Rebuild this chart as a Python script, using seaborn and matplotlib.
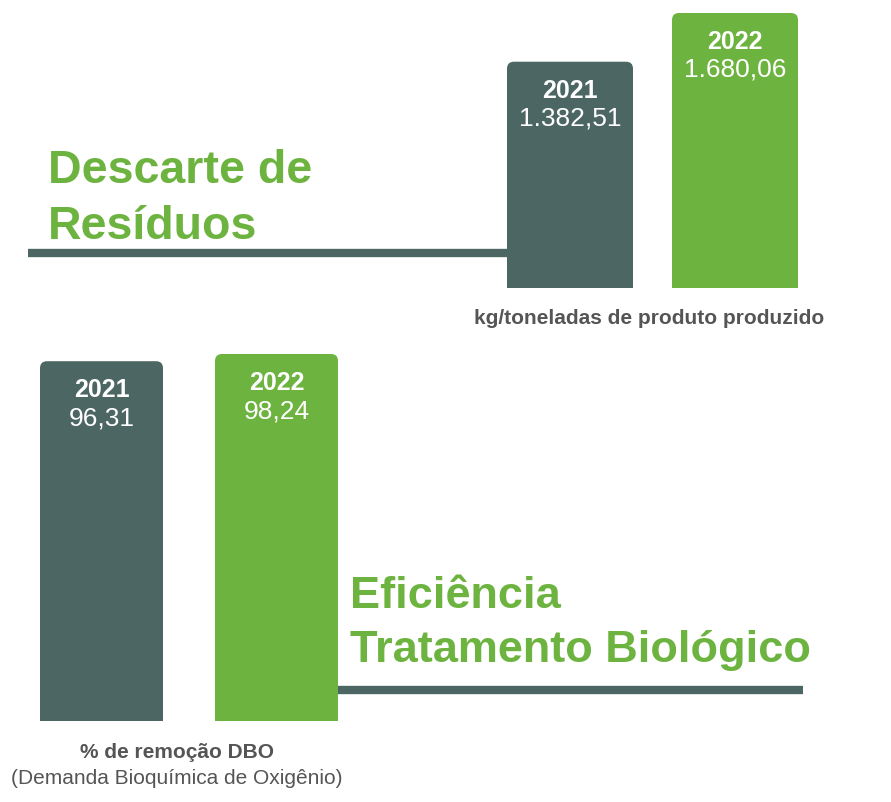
import matplotlib
matplotlib.use("Agg")
import matplotlib.pyplot as plt
import seaborn as sns
import pandas as pd
from matplotlib.patches import FancyBboxPatch, Rectangle

years = ["2021", "2022"]
residuos = [1382.51, 1680.06]
residuos_lbl = ["1.382,51", "1.680,06"]
dbo = [96.31, 98.24]
dbo_lbl = ["96,31", "98,24"]
colors = ["#4c6664", "#6db33f"]

W, H = 891, 802
fig = plt.figure(figsize=(W/100, H/100), dpi=100)
FONT = "Liberation Sans"
plt.rcParams["font.family"] = FONT

def px_axes(x0, x1, ytop, ybot):
    return fig.add_axes([x0/W, 1-ybot/H, (x1-x0)/W, (ybot-ytop)/H])

def draw(ax, vals, lbls, top, width):
    df = pd.DataFrame({"year": years, "v": vals})
    sns.barplot(data=df, x="year", y="v", hue="year", palette=colors,
                width=width, ax=ax, legend=False, saturation=1)
    ax.set_xlim(-width/2, 1+width/2)
    ax.set_ylim(0, top)
    ax.axis("off")
    fig.canvas.draw()
    for p, c, y, l in zip(ax.patches, colors, years, lbls):
        bb = p.get_window_extent()
        p.set_visible(False)
        r = 7
        fig.patches.append(FancyBboxPatch((bb.x0+r, bb.y0+r), bb.width-2*r, bb.height-2*r,
                          boxstyle=f"round,pad={r}", fc=c, ec="none", transform=None, figure=fig))
        fig.patches.append(Rectangle((bb.x0, bb.y0), bb.width, bb.height/2, fc=c, ec="none",
                          transform=None, figure=fig))
        cx = (bb.x0+bb.x1)/2
        fig.text(cx/W, (bb.y1-17)/H, y, ha="center", va="top", color="white",
                 fontsize=18, fontweight="bold")
        fig.text(cx/W, (bb.y1-45)/H, l, ha="center", va="top", color="white", fontsize=19)

ax1 = px_axes(507, 798, 13, 288)
draw(ax1, residuos, residuos_lbl, 1680.06, 126/165)
ax2 = px_axes(40, 338, 354, 721)
draw(ax2, dbo, dbo_lbl, 98.24, 123/175)

green = "#6db33f"; dark = "#4c6664"
fig.add_artist(plt.Line2D([28/W, 507/W], [1-253/H]*2, color=dark, lw=6, solid_capstyle="butt"))
fig.add_artist(plt.Line2D([338/W, 803/W], [1-690/H]*2, color=dark, lw=6, solid_capstyle="butt"))
fig.text(48/W, 1-183/H, "Descarte de", color=green, fontsize=33.5, fontweight="bold", va="baseline")
fig.text(48/W, 1-239/H, "Resíduos", color=green, fontsize=33.5, fontweight="bold", va="baseline")
fig.text(350/W, 1-608/H, "Eficiência", color=green, fontsize=32.5, fontweight="bold", va="baseline")
fig.text(350/W, 1-662/H, "Tratamento Biológico", color=green, fontsize=32.5, fontweight="bold", va="baseline")
fig.text(649/W, 1-318/H, "kg/toneladas de produto produzido", color="#555555", fontsize=15,
         fontweight="bold", ha="center", va="center")
fig.text(177/W, 1-752/H, "% de remoção DBO", color="#555555", fontsize=15,
         fontweight="bold", ha="center", va="center")
fig.text(177/W, 1-778/H, "(Demanda Bioquímica de Oxigênio)", color="#555555", fontsize=15,
         ha="center", va="center")
fig.savefig("out.png", dpi=100)
